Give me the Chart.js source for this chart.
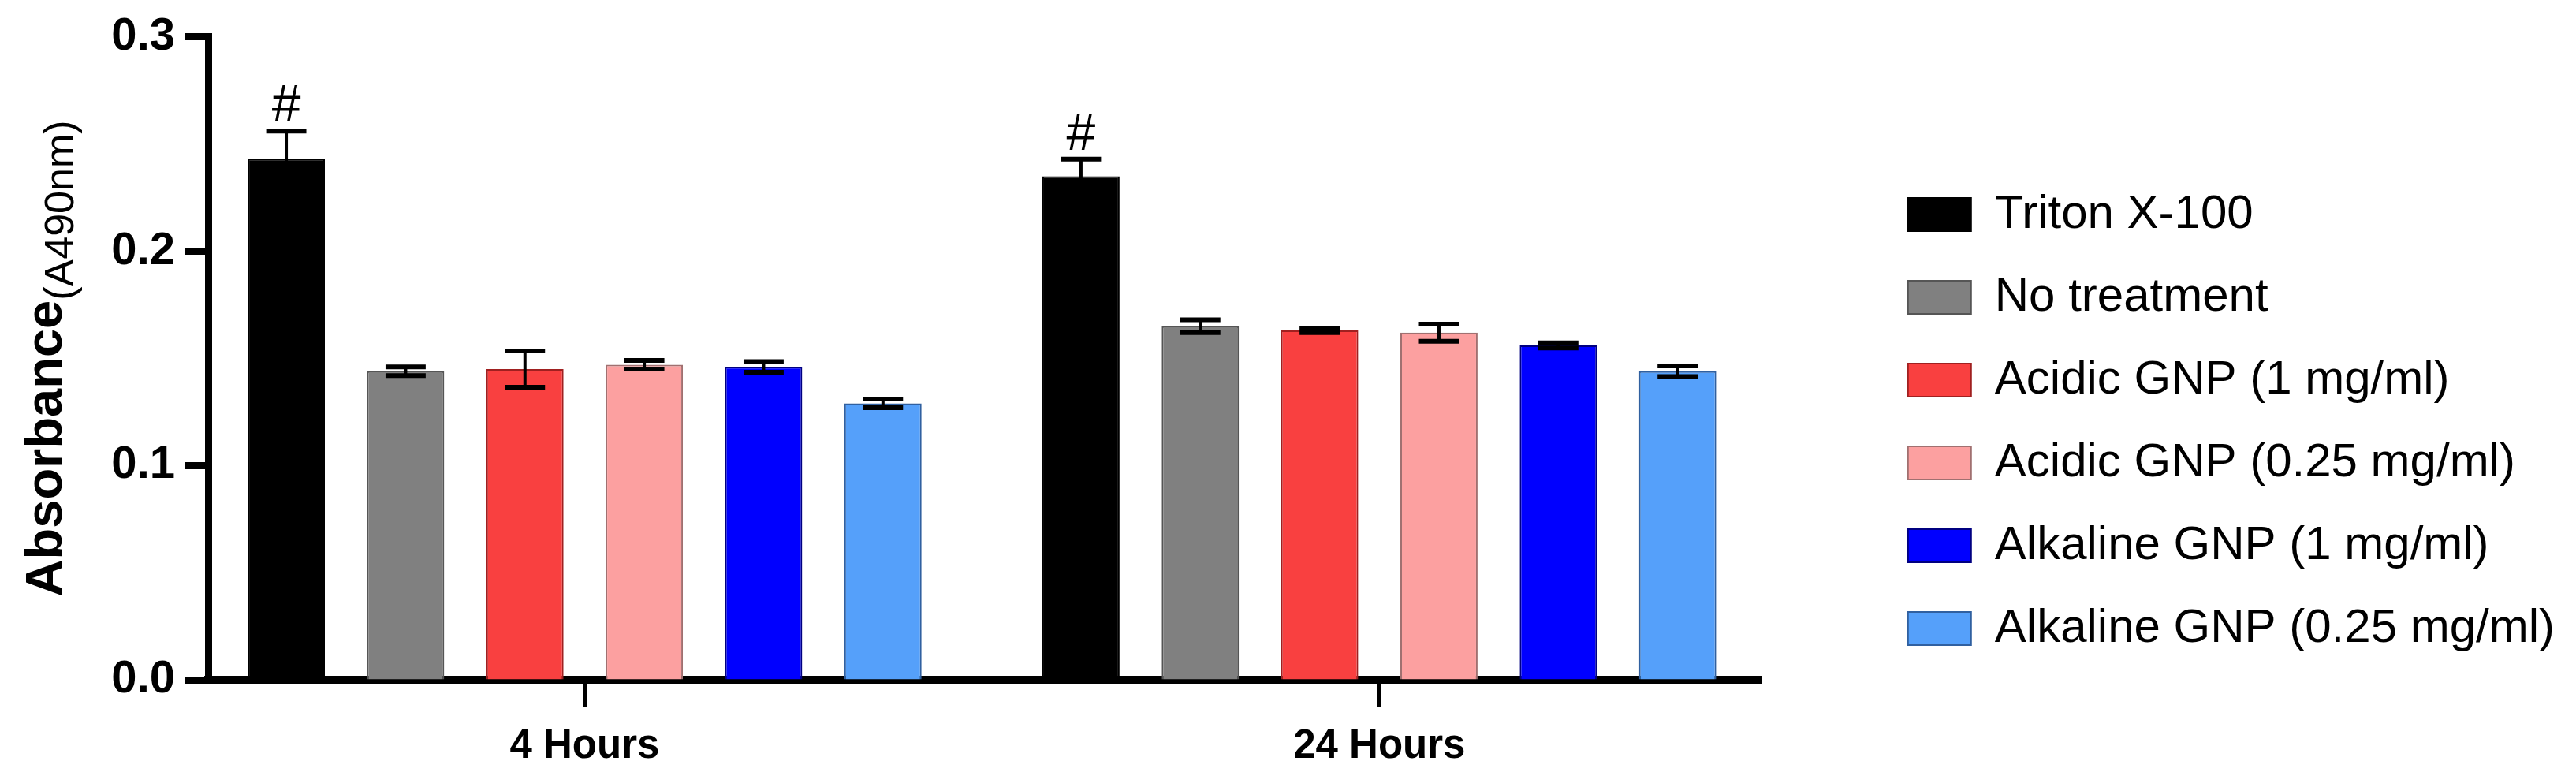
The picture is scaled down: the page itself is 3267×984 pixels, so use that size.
<!DOCTYPE html>
<html>
<head>
<meta charset="utf-8">
<script src="https://cdn.jsdelivr.net/npm/chart.js@4.4.0/dist/chart.umd.min.js"></script>
<style>
  html, body { margin: 0; padding: 0; background: #fff; }
  #wrap { width: 3267px; height: 984px; }
</style>
</head>
<body>
<div id="wrap"><canvas id="barchart"></canvas></div>
<script>
var timepoints = ['4 Hours', '24 Hours'];
var treatments = ['Triton X-100', 'No treatment', 'Acidic GNP (1 mg/ml)', 'Acidic GNP (0.25 mg/ml)', 'Alkaline GNP (1 mg/ml)', 'Alkaline GNP (0.25 mg/ml)'];

var tritonMeans = [0.243, 0.235];
var noTreatmentMeans = [0.144, 0.165];
var acidic1Means = [0.145, 0.163];
var acidic025Means = [0.147, 0.162];
var alkaline1Means = [0.146, 0.156];
var alkaline025Means = [0.129, 0.144];

var tritonErr = [0.013, 0.008];
var noTreatmentErr = [0.002, 0.003];
var acidic1Err = [0.0085, 0.001];
var acidic025Err = [0.002, 0.004];
var alkaline1Err = [0.0025, 0.0012];
var alkaline025Err = [0.002, 0.0025];

var tritonMarks = ['#', '#'];
var yTickValues = [0, 0.1, 0.2, 0.3];
var yTitleMain = 'Absorbance';
var yTitleSub = '(A490nm)';

var fills = ['#000000', '#808080', '#f94040', '#fca0a0', '#0000ff', '#55a0fa'];
var edges = ['#000000', '#555555', '#a02020', '#a07070', '#000080', '#3060a0'];

Chart.defaults.font.family = "'Liberation Sans', Arial, sans-serif";
Chart.defaults.color = '#000';

var allMeans = [tritonMeans, noTreatmentMeans, acidic1Means, acidic025Means, alkaline1Means, alkaline025Means];
var allErr = [tritonErr, noTreatmentErr, acidic1Err, acidic025Err, alkaline1Err, alkaline025Err];

var datasets = treatments.map(function(name, i) {
    return {
        label: name,
        data: allMeans[i],
        errors: allErr[i],
        marks: i === 0 ? tritonMarks : null,
        backgroundColor: fills[i],
        borderColor: edges[i],
        borderWidth: 2,
        categoryPercentage: 0.901,
        barPercentage: 0.647
    };
});

// error bars and # markers on top of the bars
var errorBars = {
    id: 'errorBars',
    afterDatasetsDraw: function(chart) {
        var ctx = chart.ctx, y = chart.scales.y;
        chart.data.datasets.forEach(function(ds, i) {
            chart.getDatasetMeta(i).data.forEach(function(bar, j) {
                var top = y.getPixelForValue(ds.data[j] + ds.errors[j]);
                var bottom = y.getPixelForValue(ds.data[j] - ds.errors[j]);
                var half = bar.width * 0.26;
                ctx.save();
                ctx.strokeStyle = '#000';
                ctx.lineWidth = 4;
                ctx.beginPath();
                ctx.moveTo(bar.x, top);
                ctx.lineTo(bar.x, bottom);
                ctx.stroke();
                ctx.lineWidth = 6;
                ctx.beginPath();
                ctx.moveTo(bar.x - half, top);
                ctx.lineTo(bar.x + half, top);
                ctx.moveTo(bar.x - half, bottom);
                ctx.lineTo(bar.x + half, bottom);
                ctx.stroke();
                if (ds.marks && ds.marks[j]) {
                    ctx.fillStyle = '#000';
                    ctx.font = "66px 'Liberation Sans', Arial, sans-serif";
                    ctx.textAlign = 'center';
                    ctx.textBaseline = 'alphabetic';
                    ctx.fillText(ds.marks[j], bar.x, top - 12);
                }
                ctx.restore();
            });
        });
    }
};

// y title with subscript
var yTitle = {
    id: 'yTitle',
    afterDraw: function(chart) {
        var ctx = chart.ctx, area = chart.chartArea;
        var mainFont = "bold 65px 'Liberation Sans', Arial, sans-serif";
        var subFont = "52px 'Liberation Sans', Arial, sans-serif";
        ctx.save();
        ctx.translate(78, (area.top + area.bottom) / 2);
        ctx.rotate(-Math.PI / 2);
        ctx.font = mainFont;
        var w1 = ctx.measureText(yTitleMain).width;
        ctx.font = subFont;
        var w2 = ctx.measureText(yTitleSub).width;
        var start = -(w1 + w2) / 2;
        ctx.fillStyle = '#000';
        ctx.textAlign = 'left';
        ctx.textBaseline = 'alphabetic';
        ctx.font = mainFont;
        ctx.fillText(yTitleMain, start, 0);
        ctx.font = subFont;
        ctx.fillText(yTitleSub, start + w1, 15);
        ctx.restore();
    }
};

var ctx = document.getElementById('barchart').getContext('2d');
var absorbanceChart = new Chart(ctx, {
    type: 'bar',
    data: {
        labels: timepoints,
        datasets: datasets
    },
    options: {
        responsive: true,
        maintainAspectRatio: false,
        animation: false,
        devicePixelRatio: 1,
        layout: { padding: { top: 46, right: 17, bottom: 0, left: 0 } },
        plugins: {
            tooltip: { enabled: false },
            legend: {
                position: 'right',
                align: 'center',
                maxWidth: 1000,
                title: { display: true, text: '', padding: { top: 27, bottom: 0 }, font: { size: 10 } },
                labels: {
                    boxWidth: 80,
                    boxHeight: 42,
                    padding: 45,
                    color: '#000',
                    font: { size: 60 }
                }
            }
        },
        scales: {
            x: {
                grid: { display: true, drawOnChartArea: false, offset: false, tickLength: 35, tickWidth: 5, tickColor: '#000' },
                border: { display: true, width: 10, color: '#000' },
                ticks: { color: '#000', padding: 19, font: { size: 51, weight: 'bold' } },
                // the groups sit a little wider apart than the axis would give them
                afterBuildTicks: function(s) { s._startValue = -0.4737; s._valueRange = 1.9554; },
                afterFit: function(s) { s.height = 122; }
            },
            y: {
                min: 0,
                max: 0.3,
                afterBuildTicks: function(s) { s.ticks = yTickValues.map(function(v) { return { value: v }; }); },
                ticks: {
                    color: '#000',
                    padding: 12,
                    font: { size: 58, weight: 'bold' },
                    callback: function(v) { return Number(v).toFixed(1); }
                },
                grid: { drawOnChartArea: false, tickLength: 30, tickWidth: 9, tickColor: '#000' },
                border: { width: 9, color: '#000' },
                afterFit: function(s) { s.width = 264; }
            },
            gap: {
                axis: 'y',
                position: 'right',
                display: true,
                grid: { display: false },
                border: { display: false },
                ticks: { display: false },
                afterFit: function(s) { s.width = 140; }
            }
        }
    },
    plugins: [errorBars, yTitle]
});
</script>
</body>
</html>
